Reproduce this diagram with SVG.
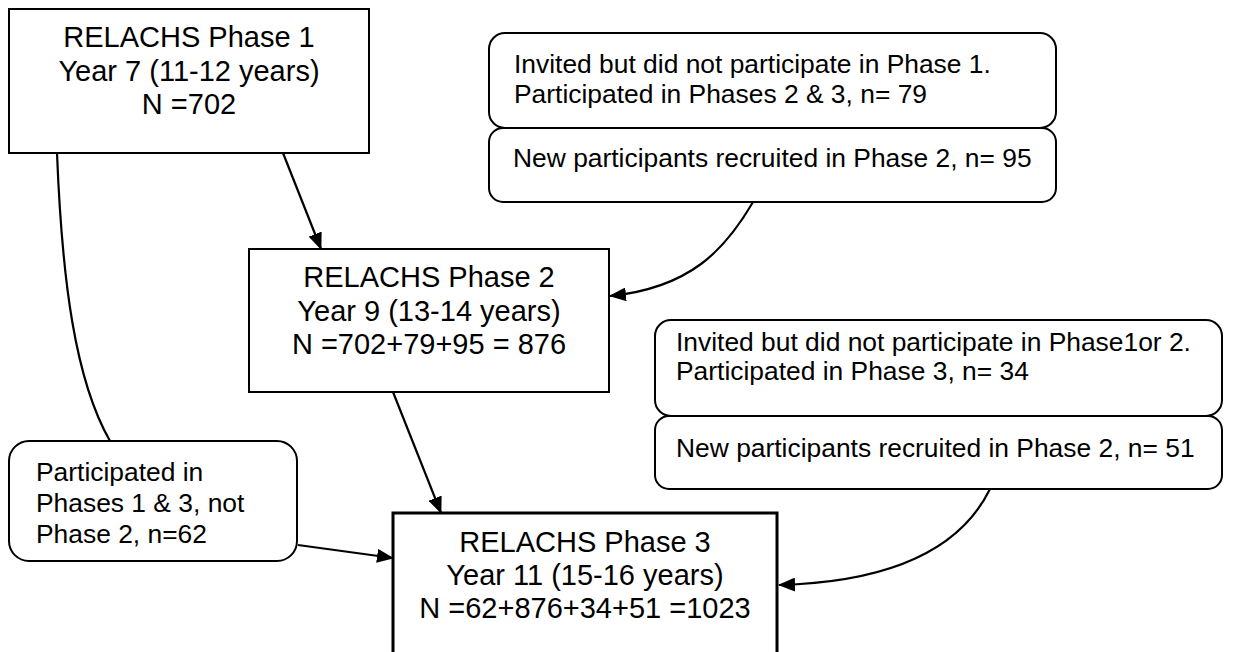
<svg xmlns="http://www.w3.org/2000/svg" width="1238" height="652" viewBox="0 0 1238 652">
<defs>
<style>
.box{fill:#fff;stroke:#000;stroke-width:2}
.thick{fill:#fff;stroke:#000;stroke-width:3}
.main{font-family:"Liberation Sans",Arial,sans-serif;font-size:29px;fill:#000;text-anchor:middle}
.sub{font-family:"Liberation Sans",Arial,sans-serif;font-size:26.4px;fill:#000}
.con{fill:none;stroke:#000;stroke-width:2.2}
</style>
<marker id="ah" markerWidth="17" markerHeight="14" refX="16" refY="7" orient="auto" markerUnits="userSpaceOnUse">
<path d="M0,0 L17,7 L0,14 z" fill="#000"/>
</marker>
</defs>
<rect width="1238" height="652" fill="#fff"/>
<g id="connectors">
<path class="con" d="M283,153 L321,249" marker-end="url(#ah)"/>
<path class="con" d="M57,153 C62,280 75,380 110,441"/>
<path class="con" d="M753,202 C725,250 690,288 610,296" marker-end="url(#ah)"/>
<path class="con" d="M393,392 L441,513" marker-end="url(#ah)"/>
<path class="con" d="M298,545 L393,558" marker-end="url(#ah)"/>
<path class="con" d="M990,489 C960,550 890,582 779,585" marker-end="url(#ah)"/>
</g>
<g id="phase1">
<rect class="box" x="9" y="9" width="360" height="144"/>
<text class="main" x="189" y="47">RELACHS Phase 1</text>
<text class="main" x="189" y="81">Year 7 (11-12 years)</text>
<text class="main" x="189" y="114">N =702</text>
</g>
<g id="phase2">
<rect class="box" x="249" y="249" width="360" height="143"/>
<text class="main" x="429" y="287">RELACHS Phase 2</text>
<text class="main" x="429" y="321">Year 9 (13-14 years)</text>
<text class="main" x="429" y="354">N =702+79+95 = 876</text>
</g>
<g id="phase3">
<rect class="thick" x="393" y="513" width="384" height="150"/>
<text class="main" x="585" y="552">RELACHS Phase 3</text>
<text class="main" x="585" y="585">Year 11 (15-16 years)</text>
<text class="main" x="585" y="618">N =62+876+34+51 =1023</text>
</g>
<g id="invited1">
<rect class="box" x="489" y="33" width="567" height="95" rx="16" ry="16"/>
<text class="sub" x="514" y="73">Invited but did not participate in Phase 1.</text>
<text class="sub" x="514" y="103">Participated in Phases 2 &amp; 3, n= 79</text>
</g>
<g id="new2">
<rect class="box" x="489" y="128" width="567" height="74" rx="14" ry="14"/>
<text class="sub" x="513" y="167">New participants recruited in Phase 2, n= 95</text>
</g>
<g id="invited2">
<rect class="box" x="655" y="320" width="567" height="96" rx="16" ry="16"/>
<text class="sub" x="676" y="351">Invited but did not participate in Phase1or 2.</text>
<text class="sub" x="676" y="380">Participated in Phase 3, n= 34</text>
</g>
<g id="new3">
<rect class="box" x="655" y="416" width="567" height="73" rx="14" ry="14"/>
<text class="sub" x="676" y="457">New participants recruited in Phase 2, n= 51</text>
</g>
<g id="phases13">
<rect class="box" x="9" y="441" width="288" height="120" rx="20" ry="20"/>
<text class="sub" x="36" y="481">Participated in</text>
<text class="sub" x="36" y="512">Phases 1 &amp; 3, not</text>
<text class="sub" x="36" y="543">Phase 2, n=62</text>
</g>
</svg>
